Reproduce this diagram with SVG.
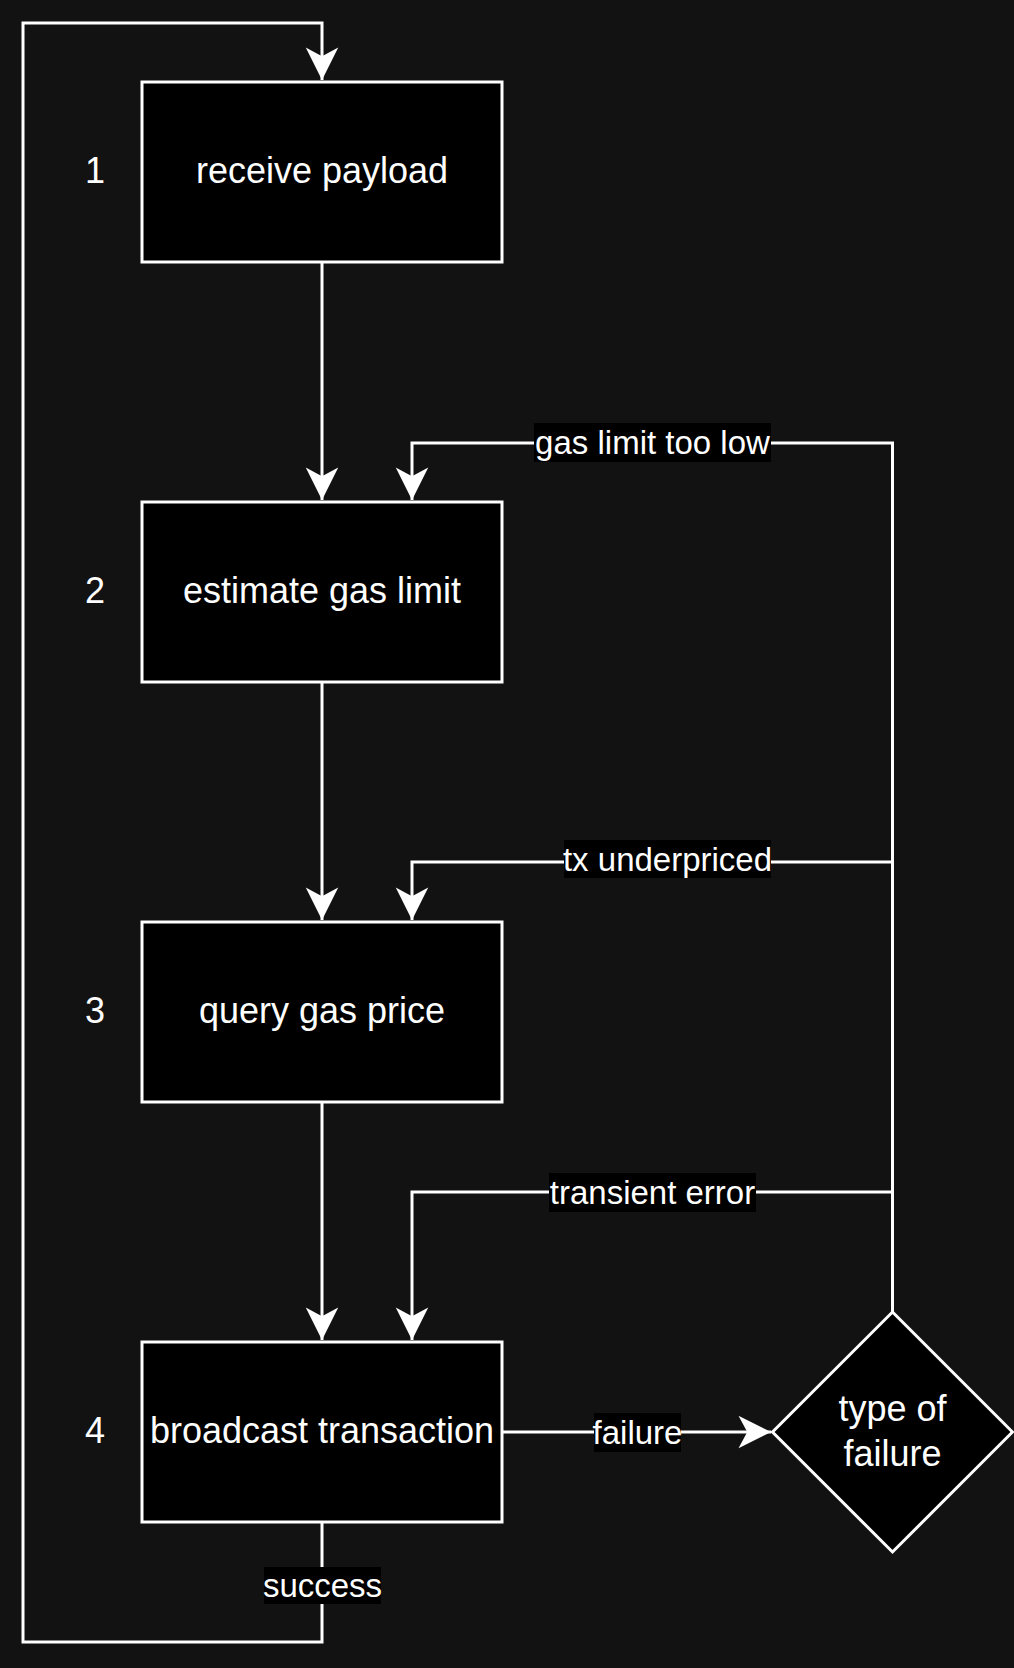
<svg xmlns="http://www.w3.org/2000/svg" width="1014" height="1668" viewBox="0 0 1014 1668">
<style>
.bg{fill:#121212}
.node{fill:#000;stroke:#fff;stroke-width:3}
.edge{fill:none;stroke:#fff;stroke-width:3}
.t{font-family:"Liberation Sans",Arial,sans-serif;font-size:36px;fill:#fff;text-anchor:middle}
.lt{font-family:"Liberation Sans",Arial,sans-serif;font-size:33px;fill:#fff;text-anchor:middle}
.lbg{fill:#000}
</style>
<defs>
<marker id="arr" markerUnits="userSpaceOnUse" markerWidth="40" markerHeight="40" viewBox="-30 -15 32 30" refX="0" refY="0" orient="auto">
<path d="M0,0 L-26,-13 L-19,0 L-26,13 Z" fill="#fff"/>
</marker>
</defs>
<rect class="bg" x="0" y="0" width="1014" height="1668"/>
<g id="connectors">
<path class="edge" d="M322,262 L322,500" marker-end="url(#arr)"/>
<path class="edge" d="M322,682 L322,920" marker-end="url(#arr)"/>
<path class="edge" d="M322,1102 L322,1340" marker-end="url(#arr)"/>
<path class="edge" d="M322,1522 L322,1642 L23,1642 L23,23 L322,23 L322,80" marker-end="url(#arr)"/>
<path class="edge" d="M503,1432 L771,1432" marker-end="url(#arr)"/>
<path class="edge" d="M892.5,1312 L892.5,443 L412,443 L412,500" marker-end="url(#arr)"/>
<path class="edge" d="M892.5,1312 L892.5,862 L412,862 L412,920" marker-end="url(#arr)"/>
<path class="edge" d="M892.5,1312 L892.5,1192 L412,1192 L412,1340" marker-end="url(#arr)"/>
<g id="edge-labels">
<rect class="lbg" x="534" y="423" width="237" height="39"/>
<text class="lt" x="652.5" y="454">gas limit too low</text>
<rect class="lbg" x="564" y="840" width="207" height="38"/>
<text class="lt" x="667.5" y="871">tx underpriced</text>
<rect class="lbg" x="549" y="1173" width="207" height="39"/>
<text class="lt" x="652.5" y="1204">transient error</text>
<rect class="lbg" x="594" y="1413" width="87" height="39"/>
<text class="lt" x="637.5" y="1444">failure</text>
<rect class="lbg" x="264" y="1567" width="117" height="37"/>
<text class="lt" x="322.5" y="1597">success</text>
</g>
</g>
<g id="node1">
<rect class="node" x="142" y="82" width="360" height="180"/>
<text class="t" x="322" y="183">receive payload</text>
</g>
<g id="node2">
<rect class="node" x="142" y="502" width="360" height="180"/>
<text class="t" x="322" y="603">estimate gas limit</text>
</g>
<g id="node3">
<rect class="node" x="142" y="922" width="360" height="180"/>
<text class="t" x="322" y="1023">query gas price</text>
</g>
<g id="node4">
<rect class="node" x="142" y="1342" width="360" height="180"/>
<text class="t" x="322" y="1443">broadcast transaction</text>
</g>
<g id="decision">
<polygon class="node" points="892.5,1312 1012.5,1432 892.5,1552 772.5,1432"/>
<text class="t" x="892.5" y="1421">type of</text>
<text class="t" x="892.5" y="1466">failure</text>
</g>
<g id="step-numbers">
<text class="t" x="95" y="183">1</text>
<text class="t" x="95" y="603">2</text>
<text class="t" x="95" y="1023">3</text>
<text class="t" x="95" y="1443">4</text>
</g>
</svg>
